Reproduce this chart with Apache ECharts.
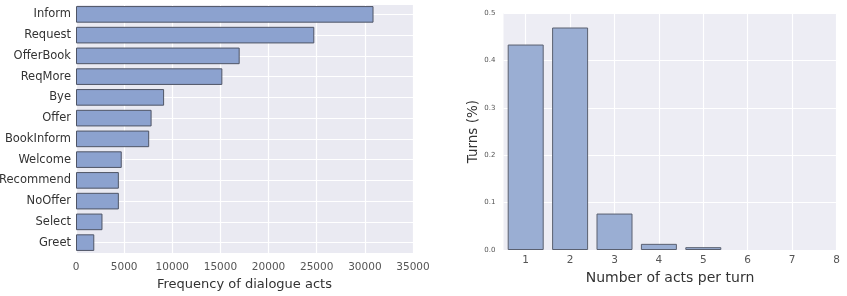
<!DOCTYPE html>
<html>
<head>
<meta charset="UTF-8">
<script src="https://cdn.jsdelivr.net/npm/echarts@6/dist/echarts.min.js"></script>
<style>
  html, body { margin: 0; padding: 0; background: #fff; }
  #chart { width: 847px; height: 296px; }
</style>
</head>
<body>
<div id="chart"></div>
<script>
// left: dialogue act frequencies (top to bottom)
var actNames = ['Inform', 'Request', 'OfferBook', 'ReqMore', 'Bye', 'Offer', 'BookInform', 'Welcome', 'Recommend', 'NoOffer', 'Select', 'Greet'];
var actCounts = [30900, 24750, 17000, 15200, 9150, 7850, 7600, 4750, 4450, 4450, 2750, 1900];
var freqTicks = [0, 5000, 10000, 15000, 20000, 25000, 30000, 35000];

// right: share of turns by number of acts
var actsPerTurn = [1, 2, 3, 4, 5, 6, 7, 8];
var turnShare = [0.434, 0.470, 0.077, 0.013, 0.006, 0.0, 0.0, 0.0];

var font = 'DejaVu Sans';
var chart = echarts.init(document.getElementById('chart'));

var option = {
  animation: false,
  textStyle: { fontFamily: font },
  grid: [
    { left: 76, top: 4, width: 337, height: 249, show: true, backgroundColor: '#eaeaf2', borderWidth: 0,
      containLabel: false, outerBoundsMode: 'none' },
    { left: 503.5, top: 13.3, right: 10.5, bottom: 46, show: true, backgroundColor: '#ededf4', borderWidth: 0,
      containLabel: false, outerBoundsMode: 'none' }
  ],
  xAxis: [
    {
      gridIndex: 0, type: 'value', min: 0, max: 35000,
      name: 'Frequency of dialogue acts', nameLocation: 'middle', nameGap: 22,
      nameTextStyle: { fontSize: 13, color: '#333' },
      axisLine: { show: false },
      axisTick: { show: false, customValues: freqTicks },
      axisLabel: { fontSize: 10.5, color: '#555', margin: 9, customValues: freqTicks,
        formatter: function (v) { return String(v); } },
      splitLine: { lineStyle: { color: '#fff', width: 1.2 } }
    },
    {
      gridIndex: 1, type: 'value', min: 0.5, max: 8,
      name: 'Number of acts per turn', nameLocation: 'middle', nameGap: 19,
      nameTextStyle: { fontSize: 14, color: '#333' },
      axisLine: { show: false },
      axisTick: { show: false, customValues: actsPerTurn },
      axisLabel: { fontSize: 10.5, color: '#555', margin: 5, customValues: actsPerTurn },
      splitLine: { lineStyle: { color: '#fff', width: 1.2 } }
    }
  ],
  yAxis: [
    {
      gridIndex: 0, type: 'category', data: actNames, inverse: true,
      axisLine: { show: false }, axisTick: { show: false },
      axisLabel: { fontSize: 11.5, color: '#333', margin: 5 },
      splitLine: { show: false }
    },
    {
      gridIndex: 1, type: 'value', min: 0, max: 0.5, interval: 0.1,
      name: 'Turns (%)', nameLocation: 'middle', nameGap: 22, nameRotate: 90,
      nameTextStyle: { fontSize: 13.5, color: '#333' },
      axisLine: { show: false }, axisTick: { show: false },
      axisLabel: { fontSize: 7, color: '#555', margin: 8, formatter: function (v) { return v.toFixed(1); } },
      splitLine: { lineStyle: { color: '#fff', width: 1.2 } }
    },
    {
      // helper axis: gridlines of the left chart sit at the middle of each category band
      gridIndex: 0, type: 'value', min: -0.5, max: actNames.length - 0.5, splitNumber: actNames.length,
      inverse: true, position: 'right',
      axisLine: { show: false }, axisTick: { show: false }, axisLabel: { show: false },
      splitLine: { show: true, lineStyle: { color: '#fff', width: 1.2 } }
    }
  ],
  series: [
    {
      type: 'bar', xAxisIndex: 0, yAxisIndex: 0, data: actCounts,
      barWidth: '80%',
      itemStyle: { color: '#8ca2cf', borderColor: '#4f5566', borderWidth: 1 }
    },
    {
      type: 'bar', xAxisIndex: 1, yAxisIndex: 1,
      data: actsPerTurn.map(function (x, i) { return turnShare[i] > 0 ? [x, turnShare[i]] : [x, null]; }),
      barWidth: 36,
      itemStyle: { color: '#9aaed3', borderColor: '#5a6070', borderWidth: 1 }
    }
  ]
};
chart.setOption(option);
</script>
</body>
</html>
